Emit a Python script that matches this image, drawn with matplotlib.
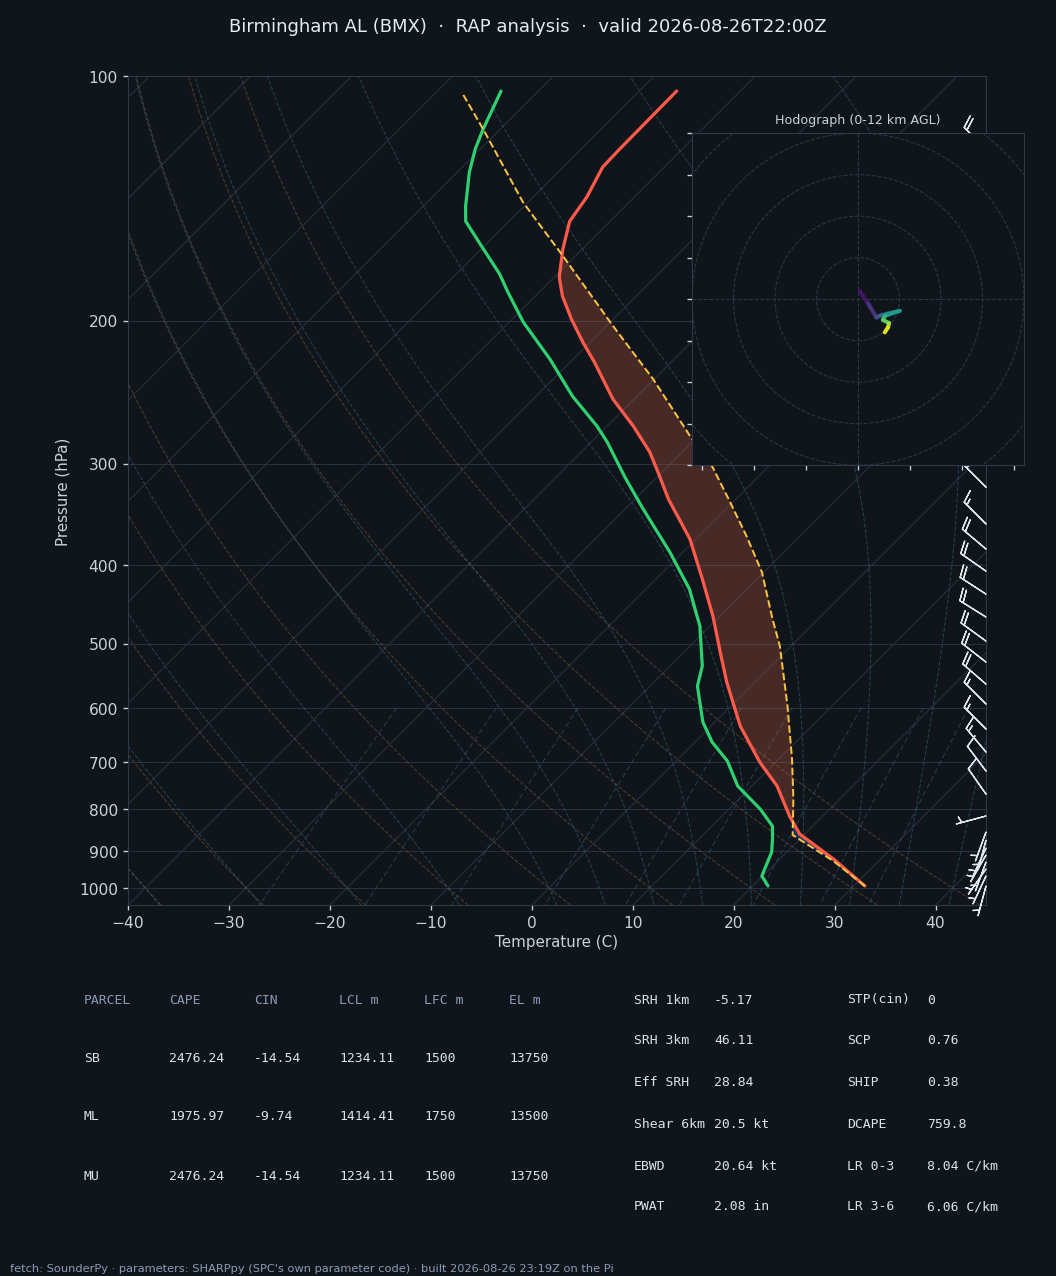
import numpy as np
import matplotlib
matplotlib.use("Agg")
import matplotlib.pyplot as plt
from matplotlib.transforms import Affine2D, blended_transform_factory
from matplotlib.collections import LineCollection
from matplotlib.patches import Circle
from matplotlib.ticker import NullLocator, FixedLocator

plt.rcParams["font.family"] = ["DejaVu Sans"]

# ---------------- data ----------------
title_text = "Birmingham AL (BMX)  \u00b7  RAP analysis  \u00b7  valid 2026-08-26T22:00Z"
footer_text = ("fetch: SounderPy \u00b7 parameters: SHARPpy (SPC's own parameter code) "
               "\u00b7 built 2026-08-26 23:19Z on the Pi")

temp_p = [994.3, 921.0, 858.2, 815.3, 748.9, 699.6, 631.6, 557.5, 512.2, 462.4,
          416.4, 371.7, 331.8, 307.4, 290.4, 269.8, 249.9, 225.0, 212.7, 199.3,
          186.6, 176.8, 163.4, 150.9, 140.9, 129.4, 123.0, 104.3]
temp_c = [31.1, 25.3, 19.5, 16.7, 12.5, 8.4, 2.9, -2.8, -6.4, -10.7,
          -15.4, -20.6, -26.7, -30.4, -33.2, -37.4, -42.1, -47.6, -50.7, -54.1,
          -57.3, -59.5, -61.9, -64.0, -64.7, -66.1, -66.2, -66.3]

dewp_p = [994.3, 966.5, 903.0, 870.5, 838.8, 799.3, 748.9, 697.6, 661.0, 624.5,
          563.9, 532.8, 475.7, 428.3, 385.7, 341.4, 311.7, 282.3, 269.8, 247.8,
          223.1, 200.9, 184.5, 175.3, 161.0, 150.9, 144.6, 131.3, 123.0, 116.2, 104.3]
dewp_c = [21.5, 19.9, 18.5, 17.3, 16.0, 13.1, 8.6, 5.1, 1.7, -1.2,
          -5.3, -6.8, -11.0, -15.7, -21.3, -28.2, -33.2, -38.4, -41.0, -46.4,
          -52.3, -58.6, -63.1, -65.7, -70.6, -74.3, -75.8, -78.8, -80.5, -81.7, -83.7]

parcel_p = [994.3, 926.3, 860.6, 777.0, 693.6, 596.8, 503.4, 466.3, 408.2, 368.5,
            334.6, 303.0, 277.5, 236.1, 203.2, 166.6, 143.0, 116.2, 104.6]
parcel_c = [31.1, 25.5, 18.9, 15.4, 11.3, 5.6, -1.1, -4.5, -10.2, -15.3,
            -20.3, -25.5, -30.8, -40.1, -49.3, -61.2, -70.5, -81.7, -87.5]

barb_p = [123.0, 135.0, 150.0, 165.0, 180.0, 200.0, 220.0, 240.0, 260.0, 280.0, 300.0,
          320.8, 356.1, 382.3, 407.1, 434.5, 463.7, 496.4, 526.9, 560.9, 593.4,
          637.0, 680.0, 717.6, 766.2, 815.3, 853.2, 873.0, 892.8, 910.9, 929.0,
          947.5, 966.5, 994.3]
barb_dir = [315, 315, 315, 315, 315, 315, 315, 315, 315, 315, 315,
            315, 315, 310, 305, 303, 302, 306, 308, 311, 315,
            315, 320, 323, 325, 255, 200, 195, 205, 210, 200,
            215, 205, 195]
barb_spd = [20, 20, 20, 20, 20, 20, 20, 20, 20, 20, 20,
            20, 15, 20, 20, 20, 20, 20, 20, 20, 15,
            15, 15, 10, 10, 5, 5, 5, 5, 5, 5,
            5, 5, 5]

hodo_u = [0.8, 4.8, 8.9, 11.0, 14.0, 20.1, 13.0, 12.0, 15.0, 14.5, 12.9]
hodo_v = [4.0, -2.0, -8.8, -7.8, -7.0, -5.6, -8.0, -10.0, -11.5, -13.5, -16.0]
hodo_z = [0.0, 1.2, 2.4, 3.5, 4.8, 6.0, 7.2, 8.4, 9.6, 10.8, 12.0]

p_ticks = [100, 200, 300, 400, 500, 600, 700, 800, 900, 1000]
t_ticks = [-40, -30, -20, -10, 0, 10, 20, 30, 40]

table_header = ["PARCEL", "CAPE", "CIN", "LCL m", "LFC m", "EL m"]
parcel_names = ["SB", "ML", "MU"]
parcel_cape = ["2476.24", "1975.97", "2476.24"]
parcel_cin = ["-14.54", "-9.74", "-14.54"]
parcel_lcl = ["1234.11", "1414.41", "1234.11"]
parcel_lfc = ["1500", "1750", "1500"]
parcel_el = ["13750", "13500", "13750"]

params1_labels = ["SRH 1km", "SRH 3km", "Eff SRH", "Shear 6km", "EBWD", "PWAT"]
params1_values = ["-5.17", "46.11", "28.84", "20.5 kt", "20.64 kt", "2.08 in"]
params2_labels = ["STP(cin)", "SCP", "SHIP", "DCAPE", "LR 0-3", "LR 3-6"]
params2_values = ["0", "0.76", "0.38", "759.8", "8.04 C/km", "6.06 C/km"]

# ---------------- style ----------------
BG = "#10151c"
GRID = "#28313c"
SPINE = "#2f3a48"
TICKC = "#c9d1d9"
HEADC = "#8b9bb4"
VALC = "#dde2e8"

FW, FH, DPI = 11.0, 13.3, 96
fig = plt.figure(figsize=(FW, FH), dpi=DPI, facecolor=BG)
W_PX, H_PX = FW * DPI, FH * DPI

def px_rect(x0, y0, x1, y1):
    return [x0 / W_PX, 1 - y1 / H_PX, (x1 - x0) / W_PX, (y1 - y0) / H_PX]

ax = fig.add_axes(px_rect(128, 77, 986, 906), facecolor=BG)
ax.set_autoscale_on(False)
ax.set_yscale("log")
ax.set_ylim(1050, 100)
ax.set_xlim(-40, 45)

ax_w = (986 - 128)
ax_h = (906 - 77)
shear = np.arctan(ax_h / ax_w)
skew_tr = ax.transScale + ax.transLimits + Affine2D().skew(shear, 0) + ax.transAxes

# ---- background lines ----
p_line = np.linspace(1050, 100, 200)
for t in range(-140, 50, 10):
    ax.plot([t, t], [1050, 100], transform=skew_tr, color=GRID, lw=0.8, zorder=1)

for t0 in range(-40, 46, 10):
    tk = (t0 + 273.15) * (p_line / 1000.0) ** 0.2857 - 273.15
    ax.plot(tk, p_line, transform=skew_tr, color="#7a5c3c", lw=0.8, ls="--",
            alpha=0.55, zorder=1)

Rd, Cp, Lv, eps = 287.04, 1005.7, 2.501e6, 0.622
def dTdp(p, T):
    es = 6.112 * np.exp(17.67 * (T - 273.15) / (T - 29.65))
    rs = eps * es / (p - es)
    return (Rd * T + Lv * rs) / (Cp + Lv * Lv * rs * eps / (Rd * T * T)) / p

def integrate(T0, p_seq):
    out = [T0]
    T = T0
    for i in range(len(p_seq) - 1):
        p0, p1 = p_seq[i], p_seq[i + 1]
        h = p1 - p0
        k1 = dTdp(p0, T)
        k2 = dTdp(p0 + h / 2, T + h / 2 * k1)
        k3 = dTdp(p0 + h / 2, T + h / 2 * k2)
        k4 = dTdp(p1, T + h * k3)
        T = T + h / 6 * (k1 + 2 * k2 + 2 * k3 + k4)
        out.append(T)
    return np.array(out)

moist_t0 = np.array(list(range(-40, 0, 10)) + list(range(0, 46, 5)), dtype=float) + 273.15
p_up = np.linspace(1000, 100, 181)
p_dn = np.linspace(1000, 1050, 11)
T_up = integrate(moist_t0, p_up)
T_dn = integrate(moist_t0, p_dn)
p_m = np.concatenate([p_dn[::-1], p_up[1:]])
T_m = np.concatenate([T_dn[::-1], T_up[1:]], axis=0) - 273.15
for j in range(len(moist_t0)):
    ax.plot(T_m[:, j], p_m, transform=skew_tr, color="#3a6a80", lw=0.8, ls="--",
            alpha=0.5, zorder=1)

p_mix = np.linspace(600, 1050, 50)
for w in [0.0004, 0.001, 0.002, 0.004, 0.007, 0.01, 0.016, 0.024, 0.032]:
    e = p_mix * w / (eps + w)
    lnr = np.log(e / 6.112)
    td = 243.5 * lnr / (17.67 - lnr)
    ax.plot(td, p_mix, transform=skew_tr, color="#34566b", lw=0.8,
            ls=(0, (5, 3)), alpha=0.6, zorder=1)

# ---- CAPE / CIN shading ----
tp = np.array(temp_p); tc = np.array(temp_c)
pp = np.array(parcel_p); pc = np.array(parcel_c)
p_fill = np.geomspace(pp[0], pp[-1], 400)
env_f = np.interp(-np.log(p_fill), -np.log(tp), tc)
par_f = np.interp(-np.log(p_fill), -np.log(pp), pc)
ax.fill_betweenx(p_fill, env_f, par_f, where=par_f > env_f, interpolate=True,
                 transform=skew_tr, color="#ff6e46", alpha=0.23, lw=0, zorder=2)
ax.fill_betweenx(p_fill, env_f, par_f, where=(par_f < env_f) & (p_fill > 700),
                 interpolate=True, transform=skew_tr, color="#2a4e8a", alpha=0.55,
                 lw=0, zorder=2)

# ---- profiles ----
ax.plot(temp_c, temp_p, transform=skew_tr, color="#ff5a4a", lw=2.4, zorder=4,
        solid_capstyle="round")
ax.plot(dewp_c, dewp_p, transform=skew_tr, color="#2fd070", lw=2.4, zorder=4,
        solid_capstyle="round")
ax.plot(parcel_c, parcel_p, transform=skew_tr, color="#f7c244", lw=1.5, ls="--",
        zorder=4)

# ---- barbs ----
bd = np.deg2rad(np.array(barb_dir, dtype=float))
bs = np.array(barb_spd, dtype=float)
bu = -bs * np.sin(bd)
bv = -bs * np.cos(bd)
bar_tr = blended_transform_factory(ax.transAxes, ax.transData)
ax.barbs(np.ones(len(barb_p)), barb_p, bu, bv, transform=bar_tr, length=6.8,
         color="#dfe5ec", linewidth=1.0, clip_on=False, zorder=6)

# ---- axes cosmetics ----
ax.yaxis.set_major_locator(FixedLocator(p_ticks))
ax.yaxis.set_minor_locator(NullLocator())
ax.set_yticklabels([str(p) for p in p_ticks])
ax.set_xticks(t_ticks)
ax.grid(axis="y", color=GRID, lw=0.8, zorder=1)
ax.set_axisbelow(True)
for s in ax.spines.values():
    s.set_color(SPINE)
ax.tick_params(colors=TICKC, labelsize=11.6, length=4, width=1)
ax.set_xlabel("Temperature (C)", color=TICKC, fontsize=11.3, labelpad=3)
ax.set_ylabel("Pressure (hPa)", color=TICKC, fontsize=11.3, labelpad=6)
ax.set_ylim(1050, 100)
ax.set_xlim(-40, 45)

# ---- hodograph inset ----
hax = fig.add_axes(px_rect(692, 134, 1024, 466), facecolor=BG)
hax.set_xlim(-80, 80)
hax.set_ylim(-80, 80)
for r in range(20, 121, 20):
    hax.add_patch(Circle((0, 0), r, fill=False, ls="--", lw=0.8, ec="#2c3744"))
hax.axhline(0, color="#2c3744", ls="--", lw=0.8)
hax.axvline(0, color="#2c3744", ls="--", lw=0.8)
pts = np.column_stack([hodo_u, hodo_v])
segs = np.stack([pts[:-1], pts[1:]], axis=1)
zmid = 0.5 * (np.array(hodo_z[:-1]) + np.array(hodo_z[1:]))
lc = LineCollection(segs, cmap="viridis", norm=plt.Normalize(0, 12), lw=3,
                    capstyle="round")
lc.set_array(zmid)
hax.add_collection(lc)
hax.set_xticks(np.arange(-75, 76, 25))
hax.set_yticks(np.arange(-80, 81, 20))
hax.tick_params(labelleft=False, labelbottom=False, colors=TICKC, length=4, width=1)
for s in hax.spines.values():
    s.set_color(SPINE)
hax.set_title("Hodograph (0-12 km AGL)", color=TICKC, fontsize=9.5, pad=7.5)

# ---- title / table / footer ----
fig.text(0.5, 1 - 27 / H_PX, title_text, ha="center", va="center", fontsize=13.5,
         color="#e6ebf0")

mono = "DejaVu Sans Mono"
col_x = [84, 169, 254, 339, 424, 509]
row_y = [1000, 1058, 1117, 1176]
for x, h in zip(col_x, table_header):
    fig.text(x / W_PX, 1 - row_y[0] / H_PX, h, family=mono, fontsize=9.8,
             color=HEADC, ha="left", va="center")
cols = [parcel_names, parcel_cape, parcel_cin, parcel_lcl, parcel_lfc, parcel_el]
for i in range(3):
    for x, col in zip(col_x, cols):
        fig.text(x / W_PX, 1 - row_y[i + 1] / H_PX, col[i], family=mono,
                 fontsize=9.8, color=VALC, ha="left", va="center")

prow_y = [1000, 1041, 1083, 1124, 1166, 1207]
for y, l1, v1, l2, v2 in zip(prow_y, params1_labels, params1_values,
                             params2_labels, params2_values):
    for x, t in ((634, l1), (714, v1), (847, l2), (927, v2)):
        fig.text(x / W_PX, 1 - y / H_PX, t, family=mono, fontsize=9.8,
                 color=VALC, ha="left", va="center")

fig.text(10 / W_PX, 1 - 1269 / H_PX, footer_text, fontsize=8.5, color=HEADC,
         ha="left", va="center")

fig.savefig("out.png", dpi=DPI, facecolor=BG)
